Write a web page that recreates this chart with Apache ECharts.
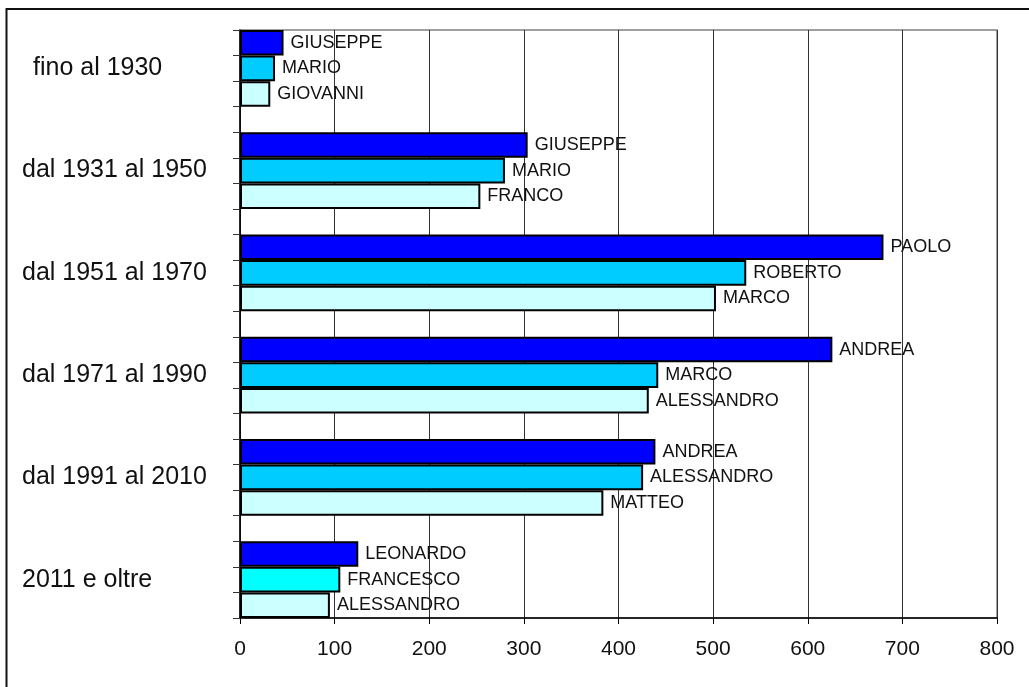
<!DOCTYPE html>
<html>
<head>
<meta charset="utf-8">
<script src="https://cdn.jsdelivr.net/npm/echarts@6/dist/echarts.min.js"></script>
<style>
  html, body { margin: 0; padding: 0; background: #fff; }
  #main { width: 1029px; height: 687px; }
</style>
</head>
<body>
<div id="main"></div>
<script>
// periodi e nomi piu' frequenti (1o, 2o, 3o)
var periods = ['fino al 1930', 'dal 1931 al 1950', 'dal 1951 al 1970', 'dal 1971 al 1990', 'dal 1991 al 2010', '2011 e oltre'];
var names1 = ['GIUSEPPE', 'GIUSEPPE', 'PAOLO', 'ANDREA', 'ANDREA', 'LEONARDO'];
var names2 = ['MARIO', 'MARIO', 'ROBERTO', 'MARCO', 'ALESSANDRO', 'FRANCESCO'];
var names3 = ['GIOVANNI', 'FRANCO', 'MARCO', 'ALESSANDRO', 'MATTEO', 'ALESSANDRO'];
var counts1 = [46, 304, 680, 626, 439, 125];
var counts2 = [37, 280, 535, 442, 426, 106];
var counts3 = [32, 254, 503, 432, 384, 95];
var xTicks = [0, 100, 200, 300, 400, 500, 600, 700, 800];

// 3 slot per periodo + 1 slot vuoto tra i gruppi
var nSlots = periods.length * 4 - 1;
var slots = [];
for (var i = 0; i < nSlots; i++) slots.push('s' + i);

function slotData(counts, names, rank) {
  var d = [];
  for (var i = 0; i < nSlots; i++) d.push('-');
  counts.forEach(function (v, g) {
    d[g * 4 + rank] = { value: v, name: names[g] };
  });
  return d;
}

var lbl = {
  show: true, position: 'right', distance: 7,
  fontFamily: 'Liberation Sans', fontSize: 18, color: '#111',
  formatter: function (p) { return p.data.name; }
};

var chart = echarts.init(document.getElementById('main'));
chart.setOption({
  backgroundColor: '#fff',
  animation: false,
  grid: { left: 240, right: 32, top: 30, bottom: 69, show: true, borderColor: '#808080', borderWidth: 1.5 },
  graphic: [{
    type: 'rect', shape: { x: 6.5, y: 9, width: 1040, height: 700 },
    style: { fill: null, stroke: '#111', lineWidth: 2 }, silent: true
  }],
  xAxis: {
    type: 'value', min: xTicks[0], max: xTicks[xTicks.length - 1], interval: 100,
    axisLine: { show: true, lineStyle: { color: '#000', width: 1.5 } },
    axisTick: { show: true, length: 6, lineStyle: { color: '#000' } },
    splitLine: { show: true, lineStyle: { color: '#333', width: 1 } },
    axisLabel: { margin: 21, fontFamily: 'Liberation Sans', fontSize: 21, color: '#111' }
  },
  yAxis: {
    type: 'category', data: slots, inverse: true,
    axisLine: { show: true, lineStyle: { color: '#000', width: 1.5 } },
    axisTick: { show: true, length: 7, interval: 0, lineStyle: { color: '#333' } },
    axisLabel: {
      interval: 0, align: 'left', margin: 218,
      fontFamily: 'Liberation Sans', fontSize: 25, color: '#111',
      formatter: function (v, idx) {
        if (idx % 4 !== 1) return '';
        var g = (idx - 1) / 4;
        return g === 0 ? '{f|' + periods[g] + '}' : periods[g];
      },
      rich: { f: { fontFamily: 'Liberation Sans', fontSize: 25, color: '#111', padding: [0, 0, 0, 11] } }
    }
  },
  series: [
    {
      type: 'bar', data: slotData(counts1, names1, 0), barGap: '-100%', barCategoryGap: 0,
      itemStyle: { color: '#0000FF', borderColor: '#000', borderWidth: 2 }, label: lbl
    },
    {
      type: 'bar', data: slotData(counts2, names2, 1), barGap: '-100%', barCategoryGap: 0,
      itemStyle: {
        color: function (p) { return p.dataIndex === nSlots - 2 ? '#00FFFF' : '#00CCFF'; },
        borderColor: '#000', borderWidth: 2
      }, label: lbl
    },
    {
      type: 'bar', data: slotData(counts3, names3, 2), barGap: '-100%', barCategoryGap: 0,
      itemStyle: { color: '#CCFFFF', borderColor: '#000', borderWidth: 2 }, label: lbl
    }
  ]
});
</script>
</body>
</html>
